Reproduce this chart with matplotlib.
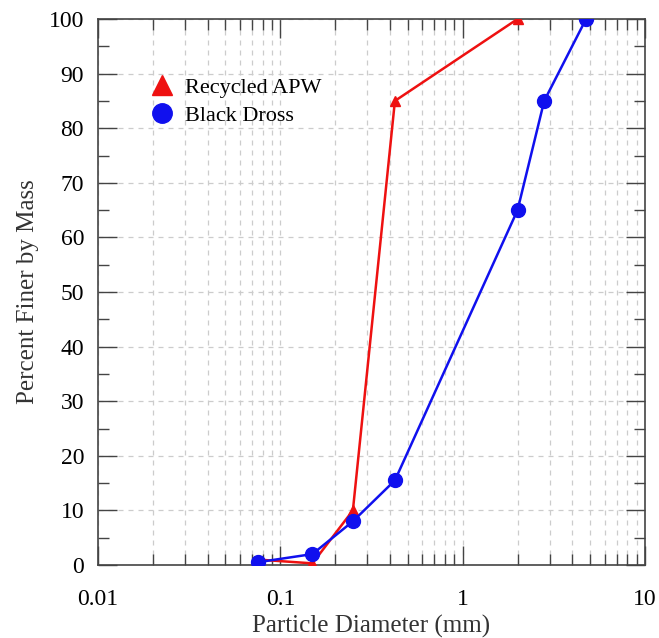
import numpy as np
import matplotlib.pyplot as plt
from matplotlib.lines import Line2D
from matplotlib.ticker import MultipleLocator, LogLocator, FixedFormatter, FixedLocator

plt.rcParams['font.family'] = ['Liberation Serif', 'DejaVu Serif']

apw_d = [0.075, 0.15, 0.25, 0.425, 2.0]
apw_p = [1.0, 0.3, 10.0, 85.0, 100.0]
dross_d = [0.075, 0.15, 0.25, 0.425, 2.0, 2.8, 4.75]
dross_p = [0.5, 2.0, 8.0, 15.5, 65.0, 85.0, 100.0]
xticks = [0.01, 0.1, 1, 10]
xticklabels = ['0.01', '0.1', '1', '10']

fig = plt.figure(figsize=(6.59, 6.38), dpi=100)
ax = fig.add_axes([98/659, 1 - 565/638, (645-98)/659, (565-19)/638])

ax.plot(apw_d, apw_p, color='#ee1111', lw=1.8, marker='^', ms=7, zorder=3)
ax.plot(dross_d, dross_p, color='#1010ee', lw=1.8, marker='o', ms=10, zorder=4)

ax.set_xscale('log')
ax.set_xlim(0.01, 10)
ax.set_ylim(0, 100)
ax.xaxis.set_major_locator(FixedLocator(xticks))
ax.xaxis.set_major_formatter(FixedFormatter(xticklabels))
ax.xaxis.set_minor_locator(LogLocator(base=10, subs=np.arange(2, 10)))
ax.xaxis.set_minor_formatter(plt.NullFormatter())
ax.yaxis.set_major_locator(MultipleLocator(10))
ax.yaxis.set_minor_locator(MultipleLocator(5))

ax.tick_params(which='both', direction='in', top=True, right=True, labelsize=17, color='#444444')
ax.tick_params(which='major', length=14, width=1)
ax.tick_params(which='minor', length=8, width=1)
ax.tick_params(axis='x', which='major', pad=17)
ax.tick_params(axis='y', which='major', pad=10)

ax.grid(True, which='major', axis='both', ls=(0, (4, 4)), color='#cccccc', lw=0.9)
ax.grid(True, which='minor', axis='x', ls=(0, (4, 4)), color='#cccccc', lw=0.9)
ax.set_axisbelow(True)
for s in ax.spines.values():
    s.set_color('#444444')
    s.set_linewidth(1.2)

ax.set_xlabel('Particle Diameter (mm)', fontsize=18, color='#333333')
ax.set_ylabel('Percent Finer by Mass', fontsize=18, color='#333333', labelpad=7)

handles = [Line2D([], [], color='#ee1111', marker='^', ls='none', ms=14),
           Line2D([], [], color='#1010ee', marker='o', ms=14, ls='none')]
ax.legend(handles, ['Recycled APW', 'Black Dross'], loc='upper left',
          bbox_to_anchor=(0.05, 0.93), frameon=False, fontsize=16,
          handletextpad=0.3, labelspacing=0.35, handlelength=1.5)

fig.savefig('out.png', dpi=100)
